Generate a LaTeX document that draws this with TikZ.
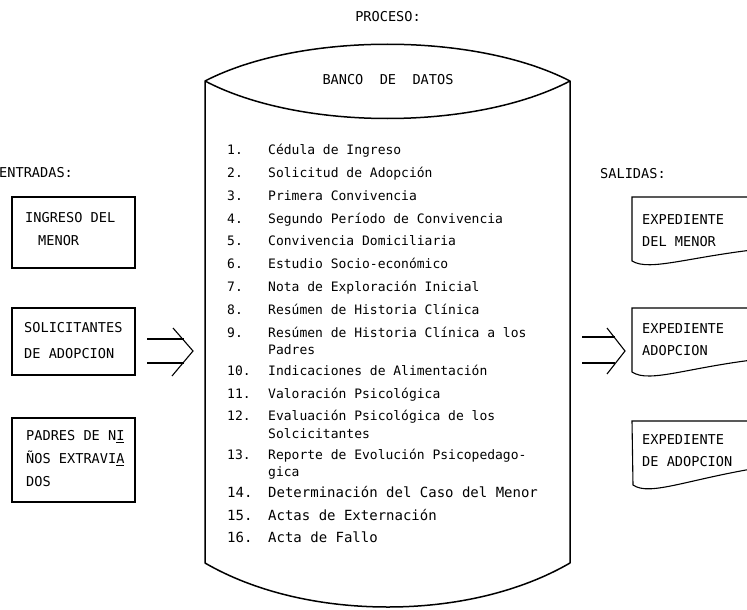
\documentclass[tikz,border=0pt]{standalone}
\usepackage{fontspec}
\newfontfamily\tw{DejaVu Sans Mono}
\begin{document}
\begin{tikzpicture}[x=1pt,y=-1pt,
  txt/.style={font=\tw\fontsize{13}{15}\selectfont, inner sep=0pt, text height=9.2pt, text depth=0pt, anchor=west},
  btxt/.style={font=\tw\fontsize{13.6}{15}\selectfont, inner sep=0pt, text height=9.6pt, text depth=0pt, anchor=west},
  big/.style={font=\tw\fontsize{14}{15}\selectfont, inner sep=0pt, text height=9.8pt, text depth=0pt, anchor=west},
  boxline/.style={draw, line width=1.1pt},
  cyl/.style={draw, line width=1.5pt, line join=round},
  arr/.style={draw, line width=1.1pt}]
\useasboundingbox (0,0) rectangle (747,610);
\clip (0,0) rectangle (747,610);

% headers
\node[btxt, anchor=center] (proceso) at (388,17) {PROCESO:};
\node[btxt] (entradas) at (-1,173) {ENTRADAS:};
\node[btxt] (salidas) at (600,174) {SALIDAS:};

% cylinder
\coordinate (cTL) at (205,81);
\coordinate (cTR) at (570,81);
\coordinate (cBL) at (205,563);
\coordinate (cBR) at (570,563);
\draw[cyl] (cTL) .. controls (300,32) and (475,32) .. (cTR)
  .. controls (475,131) and (300,131) .. (cTL) -- (cBL)
  .. controls (255,592) and (320,607) .. (388,607)
  .. controls (455,607) and (520,592) .. (cBR) -- (cTR);
\node[btxt, anchor=center] (banco) at (388,80) {BANCO\ \ DE\ \ DATOS};

% list
\foreach \y/\k/\n/\t in {150/0/1./C\'edula de Ingreso,
  172.8/1/2./Solicitud de Adopci\'on,
  195.6/2/3./Primera Convivencia,
  218.4/3/4./Segundo Per\'iodo de Convivencia,
  241.2/4/5./Convivencia Domiciliaria,
  264/5/6./Estudio Socio-econ\'omico,
  286.8/6/7./Nota de Exploraci\'on Inicial,
  309.6/7/8./Res\'umen de Historia Cl\'inica,
  332.4/8/9./Res\'umen de Historia Cl\'inica a los,
  349.6/9//Padres,
  370.6/10/10./Indicaciones de Alimentaci\'on,
  393.4/11/11./Valoraci\'on Psicol\'ogica,
  416.2/12/12./Evaluaci\'on Psicol\'ogica de los,
  433.4/13//Solcicitantes,
  454.4/14/13./Reporte de Evoluci\'on Psicopedago-,
  471.6/15//gica}
{
  \node[txt] (num\k) at (227,\y) {\n};
  \node[txt] (item\k) at (268,\y) {\t};
}
\foreach \y/\k/\n/\t in {493/16/14./Determinaci\'on del Caso del Menor,
  515.5/17/15./Actas de Externaci\'on,
  538/18/16./Acta de Fallo}
{
  \node[big] (num\k) at (227,\y) {\n};
  \node[big] (item\k) at (268,\y) {\t};
}

% input boxes
\node[boxline, minimum width=123pt, minimum height=71pt, inner sep=0pt] (in1) at (73.5,232.5) {};
\node[boxline, minimum width=123pt, minimum height=67pt, inner sep=0pt] (in2) at (73.5,341.5) {};
\node[boxline, minimum width=123pt, minimum height=84pt, inner sep=0pt] (in3) at (73.5,460) {};
\node[btxt] (in1a) at (25,218) {INGRESO DEL};
\node[btxt] (in1b) at (38,241) {MENOR};
\node[btxt] (in2a) at (24,328) {SOLICITANTES};
\node[btxt] (in2b) at (24,354) {DE ADOPCION};
\node[btxt] (in3a) at (26,436) {PADRES DE N\underline{I}};
\node[btxt] (in3b) at (26,459) {ÑOS EXTRAVI\underline{A}};
\node[btxt] (in3c) at (26,482) {DOS};

% left arrow
\coordinate (la1) at (147,339);
\coordinate (la2) at (184,339);
\coordinate (lb1) at (147,363);
\coordinate (lb2) at (184,363);
\coordinate (lc1) at (173,328);
\coordinate (lc2) at (193,351);
\coordinate (lc3) at (172,376);
\draw[arr] (la1) -- (la2);
\draw[arr] (lb1) -- (lb2);
\draw[arr] (lc1) -- (lc2) -- (lc3);

% right arrow
\coordinate (ra1) at (582,337);
\coordinate (ra2) at (615,337);
\coordinate (rb1) at (582,363);
\coordinate (rb2) at (615,363);
\coordinate (rc1) at (607,328);
\coordinate (rc2) at (625,351);
\coordinate (rc3) at (607,374);
\draw[arr] (ra1) -- (ra2);
\draw[arr] (rb1) -- (rb2);
\draw[arr] (rc1) -- (rc2) -- (rc3);

% output documents
\draw[boxline] (770,197) -- (632,197) -- (632,261)
  .. controls (650,272) and (690,256) .. (770,248);
\draw[boxline] (770,308) -- (632,308) -- (632,372)
  .. controls (650,384) and (690,366) .. (770,358);
\draw[boxline] (770,421) -- (632,421) -- (633,485)
  .. controls (650,497) and (690,478) .. (770,466);
\node[btxt] (out1a) at (642,220) {EXPEDIENTE};
\node[btxt] (out1b) at (642,242) {DEL MENOR};
\node[btxt] (out2a) at (642,329) {EXPEDIENTE};
\node[btxt] (out2b) at (642,351) {ADOPCION};
\node[btxt] (out3a) at (642,440) {EXPEDIENTE};
\node[btxt] (out3b) at (642,462) {DE ADOPCION};
\end{tikzpicture}
\end{document}
